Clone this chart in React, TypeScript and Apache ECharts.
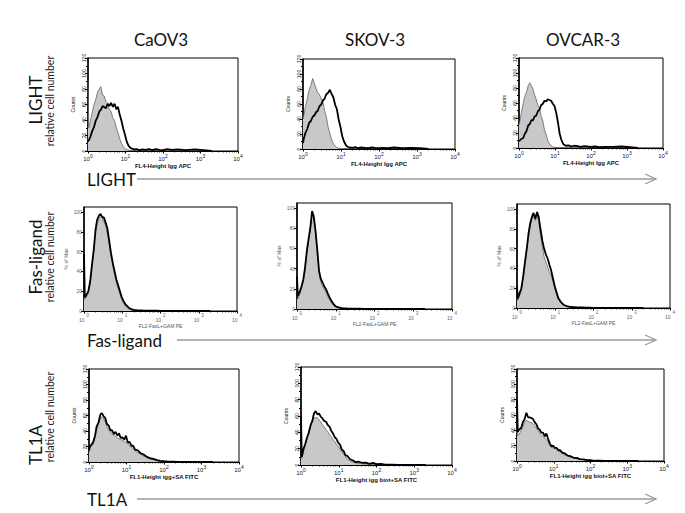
import React, { useEffect, useRef } from "react";
import * as echarts from "echarts";

// Shared histogram channel positions (fluorescence intensity, log scale)
const bins = [1, 1.05, 1.15, 1.3, 1.45, 1.6, 1.8, 2, 2.2, 2.45, 2.7, 3, 3.35, 3.7, 4.1, 4.6, 5.1, 5.7, 6.3, 7, 7.8, 8.7, 9.7, 10.8, 12, 13.5, 15, 17, 20, 24, 28, 34, 42, 52, 65, 80, 100, 130, 170, 250, 400, 700, 1200, 2000];

const columns = ["CaOV3", "SKOV-3", "OVCAR-3"];
const rows = ["LIGHT", "Fas-ligand", "TL1A"];
const rowSubLabel = "relative cell number";
const countTicks = [0, 120, 20];
const pctTicks = [0, 105, 20];
const xDecades = [1, 10000];
const xNames = [
  ["FL4-Height Igg APC", "FL4-Height Igg APC", "FL4-Height Igg APC"],
  ["FL2-FasL+GAM PE", "FL2-FasL+GAM PE", "FL2-FasL+GAM PE"],
  ["FL1-Height igg+SA FITC", "FL1-Height igg biot+SA FITC", "FL1-Height igg biot+SA FITC"],
];
const yNames = ["Counts", "% of Max", "Counts"];

// LIGHT row (counts)
const lightCaov3Iso = [92, 30, 38, 50, 60, 66, 76, 80, 83, 72, 71, 64, 61, 54, 51, 43, 39, 30, 24, 16, 10, 6, 3, 2, 1, 0.5, 0.5, 0.3, 0, 0, 0, 0, 0, 0, 0, 0, 0, 0, 0, 0, 0, 0, 0, 0];
const lightCaov3Ab = [12, 14, 18, 26, 31, 39, 44, 51, 53, 58, 57, 55, 61, 58, 62, 57, 61, 54, 57, 47, 39, 29, 21, 12, 7, 4, 3, 2, 2.5, 1, 2, 1.5, 2.5, 1, 2.5, 1.5, 1, 2.5, 1.5, 2, 1, 2, 1, 0];
const lightSkov3Iso = [40, 45, 56, 67, 79, 85, 94, 87, 81, 75, 73, 67, 63, 51, 43, 29, 21, 12, 7, 4, 2, 1, 0.5, 0.3, 0.3, 0, 0, 0, 0, 0, 0, 0, 0, 0, 0, 0, 0, 0, 0, 0, 0, 0, 0, 0];
const lightSkov3Ab = [8, 14, 21, 27, 35, 37, 43, 45, 49, 51, 57, 59, 65, 67, 73, 75, 79, 73, 69, 59, 53, 39, 29, 17, 10, 5, 3, 2, 1.5, 2.5, 1, 2, 1.5, 1, 2, 1.5, 1, 1.5, 1, 2, 1, 1.5, 1, 0];
const lightOvcar3Iso = [31, 35, 46, 59, 69, 74, 83, 87, 83, 79, 71, 65, 57, 53, 43, 36, 24, 18, 10, 6, 3, 1.5, 1, 0.5, 0.3, 0, 0, 0, 0, 0, 0, 0, 0, 0, 0, 0, 0, 0, 0, 0, 0, 0, 0, 0];
const lightOvcar3Ab = [9, 10, 12, 13, 19, 22, 30, 32, 37, 37, 42, 43, 49, 51, 57, 59, 63, 62, 65, 64, 63, 59, 56, 47, 35, 19, 11, 5, 3, 3.5, 2, 3, 2.5, 1.5, 2.5, 2, 1.5, 2, 1, 1.5, 1.5, 2, 1, 0];

// Fas-ligand row (% of max)
const fasCaov3Iso = [15, 12, 14, 18, 28, 44, 60, 78, 88, 93, 95, 94, 90, 86, 78, 66, 55, 45, 37, 29, 23, 17, 12, 8, 5, 3, 2, 1, 0.5, 0.3, 0.3, 0.2, 0.2, 0.1, 0, 0, 0, 0, 0, 0, 0, 0, 0, 0];
const fasCaov3Ab = [58, 14, 16, 20, 30, 45, 62, 82, 92, 96, 98, 95, 94, 89, 83, 70, 58, 48, 40, 32, 26, 20, 14, 10, 7, 5, 3, 2, 1.2, 0.8, 0.6, 0.5, 0.4, 0.4, 0.3, 0.3, 0.2, 0, 0, 0, 0, 0, 0, 0];
const fasSkov3Iso = [10, 10, 14, 20, 27, 38, 55, 68, 78, 94, 90, 75, 55, 36, 27, 22, 19, 16, 12, 9, 6, 4, 2.5, 1.5, 1, 0.6, 0.4, 0.2, 0.2, 0.2, 0, 0, 0, 0, 0, 0, 0, 0, 0, 0, 0, 0, 0, 0];
const fasSkov3Ab = [32, 13, 16, 22, 29, 40, 58, 70, 80, 97, 92, 78, 58, 38, 30, 26, 22, 19, 15, 11, 8, 5, 3, 2, 1.5, 1, 0.8, 0.6, 0.5, 0.4, 0.4, 0.3, 0.3, 0.2, 0.2, 0.1, 0, 0, 0, 0, 0, 0, 0, 0];
const fasOvcar3Iso = [8, 8, 12, 18, 30, 43, 58, 72, 82, 90, 95, 88, 94, 88, 74, 62, 52, 46, 42, 36, 33, 27, 20, 14, 9, 6, 4, 2.5, 1.5, 1, 0.6, 0.4, 0.3, 0, 0, 0, 0, 0, 0, 0, 0, 0, 0, 0];
const fasOvcar3Ab = [22, 10, 14, 20, 32, 45, 60, 75, 85, 92, 96, 90, 97, 92, 80, 68, 60, 54, 50, 44, 38, 30, 22, 16, 10, 7, 5, 3, 2, 1.2, 1, 0.8, 0.6, 0.5, 0.4, 0.3, 0.2, 0, 0, 0, 0, 0, 0, 0];

// TL1A row (counts)
const tl1aCaov3Iso = [12, 17, 20, 23, 32, 42, 50, 57, 58, 56, 52, 46, 42, 39, 36, 34, 33, 31, 30, 29, 28, 27, 25, 23, 21, 19, 17, 14, 12, 10, 8, 6, 4, 3, 2, 1, 0.6, 0.3, 0, 0, 0, 0, 0, 0];
const tl1aCaov3Ab = [15, 20, 22, 26, 34, 46, 51, 61, 63, 59, 57, 49, 47, 41, 41, 36, 39, 34, 37, 31, 32, 29, 34, 25, 26, 21, 21, 16, 15, 11, 10, 7, 5, 4, 2.5, 1.5, 1, 0.5, 0.3, 0, 0, 0, 0, 0];
const tl1aSkov3Iso = [55, 8, 15, 25, 32, 41, 48, 55, 57, 58, 58, 55, 53, 49, 47, 43, 41, 37, 35, 31, 29, 25, 23, 19, 17, 13, 11, 7, 5, 3.5, 2.5, 2, 1.5, 1.2, 1, 0.8, 0.5, 0.3, 0, 0, 0, 0, 0, 0];
const tl1aSkov3Ab = [60, 10, 19, 26, 34, 39, 49, 54, 63, 66, 62, 63, 59, 57, 54, 53, 49, 47, 42, 39, 34, 32, 27, 25, 19, 17, 12, 11, 7, 5.5, 3.5, 4, 2.5, 3, 1.5, 2.5, 1, 1.5, 0.5, 0.3, 0, 0, 0, 0];
const tl1aOvcar3Iso = [75, 33, 35, 40, 45, 50, 53, 52, 51, 50, 49, 46, 43, 40, 37, 34, 32, 30, 28, 25, 20, 18, 17, 16, 14, 13, 12, 10, 8, 6.5, 5, 4, 3, 2, 1.5, 1, 0.5, 0.3, 0, 0, 0, 0, 0, 0];
const tl1aOvcar3Ab = [80, 38, 41, 43, 51, 54, 63, 57, 57, 56, 55, 51, 48, 43, 41, 37, 37, 32, 36, 29, 23, 19, 20, 17, 17, 14, 14, 11, 10, 7, 6.5, 4.5, 4, 2.5, 2, 1, 1, 0.3, 0.3, 0, 0, 0, 0, 0];

const panels = [
  [lightCaov3Iso, lightCaov3Ab], [lightSkov3Iso, lightSkov3Ab], [lightOvcar3Iso, lightOvcar3Ab],
  [fasCaov3Iso, fasCaov3Ab], [fasSkov3Iso, fasSkov3Ab], [fasOvcar3Iso, fasOvcar3Ab],
  [tl1aCaov3Iso, tl1aCaov3Ab], [tl1aSkov3Iso, tl1aSkov3Ab], [tl1aOvcar3Iso, tl1aOvcar3Ab],
];

const gridBoxes = [
  { left: 88, top: 58, width: 150, height: 93 },
  { left: 303, top: 59, width: 152, height: 90 },
  { left: 519, top: 58, width: 144, height: 90 },
  { left: 84, top: 207, width: 153, height: 104 },
  { left: 297, top: 203, width: 155, height: 106 },
  { left: 517, top: 204, width: 153, height: 104 },
  { left: 89, top: 369, width: 150, height: 93 },
  { left: 301, top: 367, width: 151, height: 98 },
  { left: 517, top: 369, width: 147, height: 92 },
];

const colTitleX = [161, 375, 583];
const rowCenterY = [101, 257, 417];
const rowBigCenterY = [100, 257, 445];
const arrowRows = [
  { y: 179, start: 137, labelY: 179 },
  { y: 340, start: 177, labelY: 340 },
  { y: 499, start: 137, labelY: 499 },
];

const FONT = "Lato, 'Open Sans', sans-serif";
const SMALL = "'Liberation Sans', Arial, sans-serif";

export default function App() {
  const ref = useRef<HTMLDivElement>(null);
  useEffect(() => {
    if (!ref.current) return;
    const chart = echarts.init(ref.current, undefined, { renderer: "svg" });
    const grid: any[] = [];
    const xAxis: any[] = [];
    const yAxis: any[] = [];
    const series: any[] = [];
    panels.forEach((pair, i) => {
      const r = Math.floor(i / 3);
      const c = i % 3;
      const isPct = r === 1;
      const ticks = isPct ? pctTicks : countTicks;
      grid.push({ ...gridBoxes[i], show: true, borderColor: "#000", borderWidth: 1, backgroundColor: "transparent", containLabel: false });
      xAxis.push({
        gridIndex: i,
        type: "log",
        logBase: 10,
        min: xDecades[0],
        max: xDecades[1],
        name: xNames[r][c],
        nameLocation: "middle",
        nameGap: 12,
        nameTextStyle: { fontSize: isPct ? 5 : 6, color: isPct ? "#555" : "#111", fontFamily: SMALL, fontWeight: isPct ? "normal" : "bold" },
        axisLine: { show: true, lineStyle: { color: "#000", width: 1 } },
        axisTick: { show: true, length: 2.5, lineStyle: { color: "#000" } },
        minorTick: { show: true, splitNumber: 9, length: 1.5, lineStyle: { color: "#000", width: 0.7 } },
        splitLine: { show: false },
        axisLabel: {
          margin: 2,
          formatter: (v: number) => "{b|10}{s|" + Math.round(Math.log10(v)) + "}",
          rich: {
            b: { fontSize: isPct ? 5 : 6, lineHeight: 9, verticalAlign: "bottom", color: isPct ? "#666" : "#222", fontFamily: SMALL },
            s: { fontSize: isPct ? 4.5 : 5, lineHeight: 6, verticalAlign: "top", color: isPct ? "#666" : "#222", fontFamily: SMALL, padding: isPct ? [0, 0, 0, 2] : 0 },
          },
        },
      });
      yAxis.push({
        gridIndex: i,
        type: "value",
        min: ticks[0],
        max: ticks[1],
        interval: ticks[2],
        name: yNames[r],
        nameLocation: "middle",
        nameGap: isPct ? 16 : 13,
        nameTextStyle: { fontSize: 5, color: isPct ? "#555" : "#111", fontFamily: SMALL },
        axisLine: { show: true, lineStyle: { color: "#000", width: 1.5 } },
        axisTick: { show: true, length: 3, lineStyle: { color: "#000" } },
        minorTick: { show: !isPct, splitNumber: 2, length: 2, lineStyle: { color: "#000" } },
        splitLine: { show: false },
        axisLabel: {
          margin: 2,
          rotate: isPct ? 0 : 90,
          fontSize: 5,
          color: isPct ? "#666" : "#222",
          fontFamily: SMALL,
          showMaxLabel: !isPct,
        },
      });
      series.push({
        type: "line",
        xAxisIndex: i,
        yAxisIndex: i,
        data: bins.map((x, k) => [x, pair[0][k]]),
        symbol: "none",
        lineStyle: { color: "#555", width: 0.7 },
        areaStyle: { color: "#c8c8c8", opacity: 1 },
        z: 2,
      });
      series.push({
        type: "line",
        xAxisIndex: i,
        yAxisIndex: i,
        data: bins.map((x, k) => [x, pair[1][k]]),
        symbol: "none",
        lineStyle: { color: "#000", width: 1.8 },
        z: 3,
      });
    });

    const graphic: any[] = [];
    columns.forEach((t, c) => {
      graphic.push({ type: "text", x: colTitleX[c], y: 39, style: { text: t, fontSize: 17, fontFamily: FONT, fill: "#111", textAlign: "center", textVerticalAlign: "middle" } });
    });
    rows.forEach((t, r) => {
      graphic.push({ type: "text", x: 35, y: rowBigCenterY[r], rotation: Math.PI / 2, style: { text: t, fontSize: 17, fontFamily: FONT, fill: "#111", textAlign: "center", textVerticalAlign: "middle" } });
      graphic.push({ type: "text", x: 50, y: rowCenterY[r], rotation: Math.PI / 2, style: { text: rowSubLabel, fontSize: 10.5, fontFamily: FONT, fill: "#222", textAlign: "center", textVerticalAlign: "middle" } });
      const a = arrowRows[r];
      graphic.push({ type: "text", x: 87, y: a.labelY, style: { text: t, fontSize: 17, fontFamily: FONT, fill: "#111", textAlign: "left", textVerticalAlign: "middle" } });
      graphic.push({ type: "line", shape: { x1: a.start, y1: a.y, x2: 656, y2: a.y }, style: { stroke: "#9a9a9a", lineWidth: 1.5 } });
      graphic.push({ type: "polyline", shape: { points: [[645, a.y - 5], [656, a.y], [645, a.y + 5]] }, style: { stroke: "#9a9a9a", lineWidth: 1.3, fill: null } });
    });

    chart.setOption({ animation: false, backgroundColor: "#fff", grid, xAxis, yAxis, series, graphic });
    return () => chart.dispose();
  }, []);
  return <div ref={ref} style={{ position: "fixed", left: 0, top: 0, width: 685, height: 513 }} />;
}
